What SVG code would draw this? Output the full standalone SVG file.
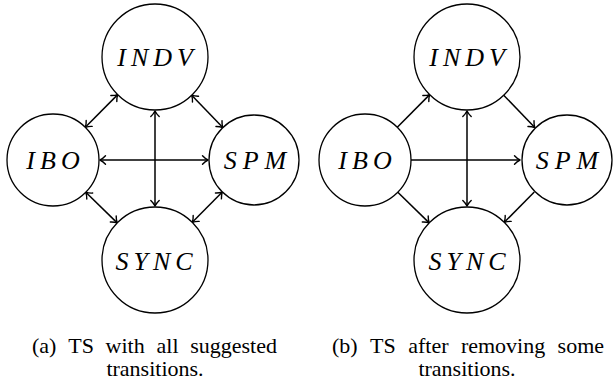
<svg xmlns="http://www.w3.org/2000/svg" width="613" height="383" viewBox="0 0 613 383">
<defs>
<marker id="ah" viewBox="-7 -6 9 12" refX="0" refY="0" markerWidth="9" markerHeight="12" markerUnits="userSpaceOnUse" orient="auto-start-reverse">
<path d="M-5.5,-4.2 C-3.5,-2 -1.2,-0.6 0,0 C-1.2,0.6 -3.5,2 -5.5,4.2" fill="none" stroke="#000" stroke-width="1.4" stroke-linecap="round" stroke-linejoin="round"/>
</marker>
</defs>

<g id="connectors-a" stroke="#000" stroke-width="1.5" fill="none">
<line x1="85.3" y1="127.3" x2="117.7" y2="94.6" marker-start="url(#ah)" marker-end="url(#ah)"/>
<line x1="191.7" y1="95.2" x2="222.8" y2="127.6" marker-start="url(#ah)" marker-end="url(#ah)"/>
<line x1="85.8" y1="192.2" x2="117.2" y2="222.9" marker-start="url(#ah)" marker-end="url(#ah)"/>
<line x1="222.3" y1="192" x2="192.3" y2="222.3" marker-start="url(#ah)" marker-end="url(#ah)"/>
<line x1="100" y1="160" x2="208" y2="160" marker-start="url(#ah)" marker-end="url(#ah)"/>
<line x1="155" y1="111" x2="155" y2="206" marker-start="url(#ah)" marker-end="url(#ah)"/>
</g>

<g id="a-INDV"><circle cx="155" cy="57" r="53" fill="#fff" stroke="#000" stroke-width="1.3"/><text x="117.2 130.9 153.2 177" y="66" font-family="Liberation Serif" font-style="italic" font-size="26">INDV</text></g>
<g id="a-IBO"><circle cx="53" cy="160" r="46" fill="#fff" stroke="#000" stroke-width="1.3"/><text x="26.3 40 60.9" y="169" font-family="Liberation Serif" font-style="italic" font-size="26">IBO</text></g>
<g id="a-SPM"><circle cx="254" cy="160" r="45" fill="#fff" stroke="#000" stroke-width="1.3"/><text x="223.7 242.7 264.6" y="169" font-family="Liberation Serif" font-style="italic" font-size="26">SPM</text></g>
<g id="a-SYNC"><circle cx="155" cy="260" r="53" fill="#fff" stroke="#000" stroke-width="1.3"/><text x="115.5 133.5 153 175.3" y="270" font-family="Liberation Serif" font-style="italic" font-size="26">SYNC</text></g>

<g id="connectors-b" stroke="#000" stroke-width="1.5" fill="none">
<line x1="397.3" y1="127.3" x2="429.7" y2="94.6" marker-end="url(#ah)"/>
<line x1="503.7" y1="95.2" x2="534.8" y2="127.6" marker-end="url(#ah)"/>
<line x1="397.8" y1="192.2" x2="429.2" y2="222.9" marker-end="url(#ah)"/>
<line x1="534.3" y1="192" x2="504.3" y2="222.3" marker-end="url(#ah)"/>
<line x1="411" y1="160" x2="520" y2="160" marker-end="url(#ah)"/>
<line x1="467" y1="111" x2="467" y2="206" marker-start="url(#ah)" marker-end="url(#ah)"/>
</g>

<g id="b-INDV"><circle cx="467" cy="57" r="53" fill="#fff" stroke="#000" stroke-width="1.3"/><text x="429.2 442.9 465.2 489" y="66" font-family="Liberation Serif" font-style="italic" font-size="26">INDV</text></g>
<g id="b-IBO"><circle cx="365" cy="160" r="46" fill="#fff" stroke="#000" stroke-width="1.3"/><text x="338.3 352 372.9" y="169" font-family="Liberation Serif" font-style="italic" font-size="26">IBO</text></g>
<g id="b-SPM"><circle cx="567" cy="160" r="45" fill="#fff" stroke="#000" stroke-width="1.3"/><text x="535.7 554.7 576.6" y="169" font-family="Liberation Serif" font-style="italic" font-size="26">SPM</text></g>
<g id="b-SYNC"><circle cx="467" cy="260" r="53" fill="#fff" stroke="#000" stroke-width="1.3"/><text x="428.5 446.5 466 488.3" y="270" font-family="Liberation Serif" font-style="italic" font-size="26">SYNC</text></g>

<g id="captions">
<text y="353" font-family="Liberation Serif" font-size="22"><tspan x="32">(a)</tspan> <tspan x="68.2">TS</tspan> <tspan x="105.6">with</tspan> <tspan x="156.5">all</tspan> <tspan x="190.2">suggested</tspan></text>
<text x="155" y="376" font-family="Liberation Serif" font-size="22" text-anchor="middle">transitions.</text>
<text y="353" font-family="Liberation Serif" font-size="22"><tspan x="332">(b)</tspan> <tspan x="370.1">TS</tspan> <tspan x="408.2">after</tspan> <tspan x="460.9">removing</tspan> <tspan x="557.6">some</tspan></text>
<text x="467" y="376" font-family="Liberation Serif" font-size="22" text-anchor="middle">transitions.</text>
</g>
</svg>
